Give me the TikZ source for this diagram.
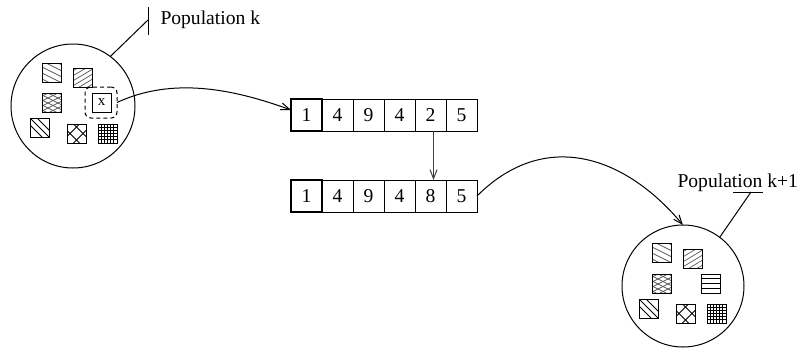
\documentclass[tikz,border=0pt]{standalone}
\usepackage{fontspec}
\setmainfont{Liberation Serif}
\usetikzlibrary{arrows.meta}
\newcommand{\hsq}[3]{%
  \begin{scope}[shift={(#1,#2)}]
    \begin{scope}\clip (0,0) rectangle (19,19); #3 \end{scope}
    \draw (0,0) rectangle (19,19);
  \end{scope}}
\newcommand{\patA}{\foreach \c in {-9,-3,3,9,15} \draw[finehatch] (-2,\c) -- (21,\c+11.5);}
\newcommand{\patB}{\foreach \c in {4,9,14,19,24,29} \draw[finehatch] (-2,\c) -- (21,\c-13.8);}
\newcommand{\patC}{\foreach \c in {-9,-4,1,6,11,16} \draw[finehatch] (-2,\c) -- (21,\c+11.5);
  \foreach \c in {4,9,14,19,24,29} \draw[finehatch] (-2,\c) -- (21,\c-11.5);}
\newcommand{\patD}{\foreach \c in {-7,0,7} \draw[widehatch] (-2,\c-2) -- (21,\c+21);}
\newcommand{\patE}{\foreach \c in {-6.5,6.5} {\draw[widehatch] (-2,\c-2) -- (21,\c+21); \draw[widehatch] (-2,21-\c) -- (21,-2-\c);}}
\newcommand{\patF}{\foreach \c in {3.2,6.3,9.5,12.7,15.8} {\draw[widehatch] (\c,0) -- (\c,19); \draw[widehatch] (0,\c) -- (19,\c);}}
\newcommand{\patG}{\foreach \c in {4.75,9.5,14.25} \draw[widehatch] (0,\c) -- (19,\c);}
\begin{document}
\begin{tikzpicture}[x=0.5pt,y=-0.5pt,line width=0.5pt,
  >={Straight Barb[length=4.5pt,width=3.5pt]},
  cell/.style={draw, minimum width=15.5pt, minimum height=16pt, inner sep=0pt, outer sep=0pt,
    anchor=north west, font=\fontsize{9.8}{11}\selectfont},
  lbl/.style={inner sep=0pt, anchor=base west, font=\fontsize{9.8}{11}\selectfont},
  finehatch/.style={line width=0.35pt, black!65},
  widehatch/.style={line width=0.4pt, black},
  popcircle/.style={draw, circle, inner sep=0pt, outer sep=0pt}]
\useasboundingbox (0,0) rectangle (799,349);

% ---- population k ----
\node[popcircle, minimum size=62pt] (c1) at (73,106) {};
\hsq{42}{63}{\patA}
\hsq{73}{68}{\patB}
\hsq{42}{93}{\patC}
\hsq{30}{118}{\patD}
\hsq{67}{124}{\patE}
\hsq{98}{124}{\patF}
\node[draw, dashed, dash pattern=on 2pt off 1.5pt, rounded corners=3pt, minimum width=16pt,
  minimum height=15.5pt, inner sep=0pt, outer sep=0pt] (dbox) at (101,102.5) {};
\node[draw, minimum size=9.5pt, inner sep=0pt, font=\fontsize{7.5}{8}\selectfont] (xbox) at (101.5,102.5) {x};
\coordinate (v1t) at (148,7);
\coordinate (v1b) at (148,35);
\coordinate (k1) at (148,20);
\draw (v1t) -- (v1b);
\draw (c1.53) -- (k1);
\node[lbl] (lab1) at (160,24) {Population k};

% ---- arrays ----
\node[cell] (t2) at (322,99) {4};
\node[cell] (t3) at (353,99) {9};
\node[cell] (t4) at (384,99) {4};
\node[cell] (t5) at (415,99) {2};
\node[cell] (t6) at (446,99) {5\hspace{4.5pt}};
\node[cell, line width=0.7pt] (t1) at (291,99) {1};
\node[cell] (b2) at (322,180) {4};
\node[cell] (b3) at (353,180) {9};
\node[cell] (b4) at (384,180) {4};
\node[cell] (b5) at (415,180) {8};
\node[cell] (b6) at (446,180) {5};
\node[cell, line width=0.7pt] (b1) at (291,180) {1};

% ---- population k+1 ----
\node[popcircle, minimum size=61pt] (c2) at (683,286) {};
\hsq{652}{243}{\patA}
\hsq{683}{249}{\patB}
\hsq{652}{274}{\patC}
\hsq{701}{274}{\patG}
\hsq{639}{299}{\patD}
\hsq{676}{304}{\patE}
\hsq{707}{304}{\patF}
\coordinate (h2l) at (733,192);
\coordinate (h2r) at (763,192);
\coordinate (k2) at (751,192);
\draw (h2l) -- (h2r);
\draw (c2.53) -- (k2);
\node[lbl] (lab2) at (677,187) {Population k+1};

% ---- arrows ----
\draw[->] (dbox.east) to[out=25, in=160, looseness=0.9] ([yshift=2.5pt]t1.west);
\draw[->, black!75] ([xshift=1.5pt]t5.south) -- ([xshift=1.5pt]b5.north);
\draw[->] (b6.east) to[out=45, in=130, looseness=1.15] (c2.north);
\end{tikzpicture}
\end{document}
